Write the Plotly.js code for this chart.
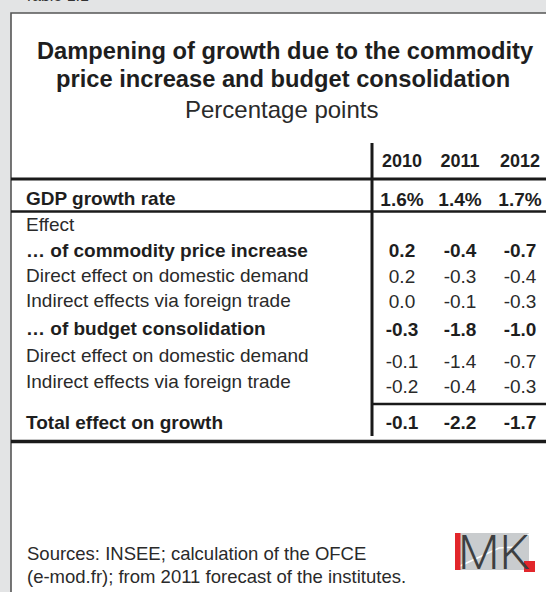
<!DOCTYPE html>
<html><head><meta charset="utf-8">
<script src="https://cdn.plot.ly/plotly-3.0.1.min.js"></script>
<style>html,body{margin:0;padding:0;background:#e3e4e5;}</style>
</head><body><div id="chart" style="width:546px;height:592px;"></div>
<script>
// ---- data ----
const years = ['2010', '2011', '2012'];
const rowLabels = [
  'GDP growth rate',
  'Effect',
  '… of commodity price increase',
  'Direct effect on domestic demand',
  'Indirect effects via foreign trade',
  '… of budget consolidation',
  'Direct effect on domestic demand',
  'Indirect effects via foreign trade',
  'Total effect on growth'
];
const gdpGrowth         = [1.6, 1.4, 1.7];
const commodityTotal    = [0.2, -0.4, -0.7];
const commodityDirect   = [0.2, -0.3, -0.4];
const commodityIndirect = [0.0, -0.1, -0.3];
const budgetTotal       = [-0.3, -1.8, -1.0];
const budgetDirect      = [-0.1, -1.4, -0.7];
const budgetIndirect    = [-0.2, -0.4, -0.3];
const totalEffect       = [-0.1, -2.2, -1.7];
const titleLines = ['Dampening of growth due to the commodity', 'price increase and budget consolidation'];
const subtitle = 'Percentage points';
const sourceLines = ['Sources: INSEE; calculation of the OFCE', '(e-mod.fr); from 2011 forecast of the institutes.'];

// ---- layout config (positions / styles) ----
const rowValues = [gdpGrowth, null, commodityTotal, commodityDirect, commodityIndirect,
                   budgetTotal, budgetDirect, budgetIndirect, totalEffect];
const rowIsPercent = [true, false, false, false, false, false, false, false, false];
const rowBold = [true, false, true, false, false, true, false, false, true];
const colX = [402, 460, 520];
const labelX = 26;
const labelY = [200, 226, 252, 277, 302, 330, 357, 383, 424];
const valueY = [201, null, 252, 278, 303, 331, 363, 388, 424];
const headerY = 162;
const FONT = 'Liberation Sans, Arial, Helvetica, sans-serif';
const INK = '#1e1e1e';
const BODY = '#2a2a2a';

function fmt(v, pct) { return v.toFixed(1) + (pct ? '%' : ''); }

const traces = [];
function addText(xs, ys, texts, bold, pos, size, color) {
  traces.push({
    type: 'scatter', mode: 'text', x: xs, y: ys, text: texts,
    textposition: pos, cliponaxis: false, hoverinfo: 'skip', showlegend: false,
    textfont: {family: FONT, size: size, color: color, weight: bold ? 700 : 400}
  });
}
// header
addText(colX, years.map(() => headerY), years, true, 'middle center', 18, INK);
// labels
[true, false].forEach(b => {
  const xs = [], ys = [], ts = [];
  rowLabels.forEach((l, i) => { if (rowBold[i] === b) { xs.push(labelX); ys.push(labelY[i]); ts.push(l); } });
  addText(xs, ys, ts, b, 'middle right', 19, b ? INK : BODY);
});
// values
[true, false].forEach(b => {
  const xs = [], ys = [], ts = [];
  rowValues.forEach((vals, i) => {
    if (!vals || rowBold[i] !== b) return;
    vals.forEach((v, j) => { xs.push(colX[j]); ys.push(valueY[i]); ts.push(fmt(v, rowIsPercent[i])); });
  });
  addText(xs, ys, ts, b, 'middle center', 19, b ? INK : BODY);
});

const LINE = '#1a1a1a';
const shapes = [
  {type: 'rect', layer: 'below', x0: 11, x1: 560, y0: 13, y1: 610, fillcolor: '#ffffff', line: {color: '#555555', width: 1.6}},
  {type: 'line', x0: 372, x1: 372, y0: 143, y1: 436, line: {color: LINE, width: 3}},
  {type: 'line', x0: 11, x1: 546, y0: 179, y1: 179, line: {color: LINE, width: 3}},
  {type: 'line', x0: 11, x1: 546, y0: 211.5, y1: 211.5, line: {color: LINE, width: 2.5}},
  {type: 'line', x0: 372, x1: 546, y0: 404, y1: 404, line: {color: LINE, width: 2.5}},
  {type: 'line', x0: 11, x1: 546, y0: 441.5, y1: 441.5, line: {color: LINE, width: 3.5}},
  // IMK logo
  {type: 'rect', x0: 455, x1: 529, y0: 533, y1: 570, fillcolor: '#c9ccce', line: {width: 0}},
  {type: 'path', path: 'M 460 566 L 499 548 L 514 547 L 529 534', line: {color: '#ffffff', width: 1.5}},
  {type: 'rect', x0: 455, x1: 460.5, y0: 533, y1: 570, fillcolor: '#e2262b', line: {width: 0}},
  {type: 'rect', x0: 524, x1: 535, y0: 561, y1: 572, fillcolor: '#e2262b', line: {width: 0}}
];

const annotations = [
  {x: 22, y: 6, xref: 'x', yref: 'y', xanchor: 'left', yanchor: 'bottom', showarrow: false,
   text: 'Table 1.1', font: {family: FONT, size: 16, color: '#333333'}},
  {x: 285, y: 51, xref: 'x', yref: 'y', xanchor: 'center', yanchor: 'middle', showarrow: false,
   text: titleLines[0], font: {family: FONT, size: 23.7, color: INK, weight: 700}},
  {x: 283, y: 79, xref: 'x', yref: 'y', xanchor: 'center', yanchor: 'middle', showarrow: false,
   text: titleLines[1], font: {family: FONT, size: 23.7, color: INK, weight: 700}},
  {x: 281, y: 109, xref: 'x', yref: 'y', xanchor: 'center', yanchor: 'middle', showarrow: false,
   text: subtitle, font: {family: FONT, size: 24, color: BODY}},
  {x: 25, y: 553, xref: 'x', yref: 'y', xanchor: 'left', yanchor: 'middle', showarrow: false,
   text: sourceLines[0], font: {family: FONT, size: 18.5, color: BODY}},
  {x: 25, y: 576, xref: 'x', yref: 'y', xanchor: 'left', yanchor: 'middle', showarrow: false,
   text: sourceLines[1], font: {family: FONT, size: 18.5, color: BODY}},
  {x: 494, y: 552, xref: 'x', yref: 'y', xanchor: 'center', yanchor: 'middle', showarrow: false,
   text: 'MK', font: {family: 'Roboto, Liberation Sans, sans-serif', size: 48, weight: 300, color: '#3d3f41'}}
];

const layout = {
  width: 546, height: 592,
  margin: {l: 0, r: 0, t: 0, b: 0, pad: 0},
  paper_bgcolor: '#e3e4e5', plot_bgcolor: 'rgba(0,0,0,0)',
  xaxis: {range: [0, 546], visible: false, fixedrange: true},
  yaxis: {range: [592, 0], visible: false, fixedrange: true},
  showlegend: false,
  shapes: shapes,
  annotations: annotations
};
Plotly.newPlot('chart', traces, layout, {staticPlot: true, displayModeBar: false});
</script>
</body></html>
